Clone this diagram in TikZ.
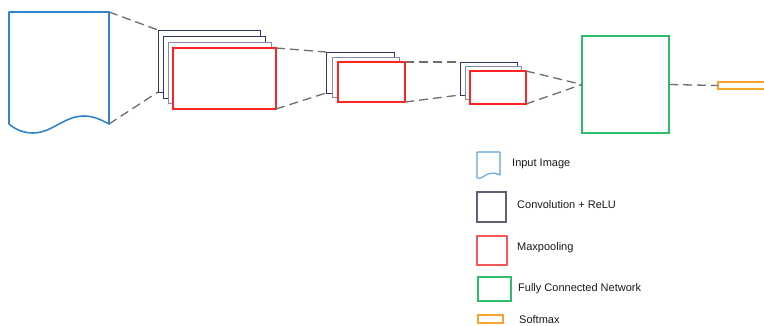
\documentclass[tikz,border=0pt]{standalone}
\usepackage{fontspec}
\setmainfont{Liberation Sans}
\definecolor{inblue}{HTML}{2F86D0}
\definecolor{inbluel}{HTML}{5AA2DC}
\definecolor{convnavy}{HTML}{2E3766}
\definecolor{convgray}{HTML}{858BA6}
\definecolor{poolred}{HTML}{FF2424}
\definecolor{poolredl}{HTML}{F05A5A}
\definecolor{fcgreen}{HTML}{2DBE6C}
\definecolor{smorange}{HTML}{F7A42C}
\definecolor{linkgray}{HTML}{6E6E6E}
\begin{document}
\begin{tikzpicture}[x=1pt,y=-1pt,
  box/.style={draw,fill=white,inner sep=0pt,outer sep=0pt,anchor=north west},
  convbox/.style={box,draw=convnavy,line width=0.9pt},
  convboxl/.style={box,draw=convgray,line width=0.9pt},
  poolbox/.style={box,draw=poolred,line width=1.6pt},
  fcbox/.style={box,draw=fcgreen,line width=1.6pt},
  smbox/.style={box,draw=smorange,line width=1.6pt},
  link/.style={draw=linkgray,line width=1.3pt,dash pattern=on 9pt off 5pt},
  legtext/.style={anchor=west,font=\fontsize{11}{13}\selectfont,text=black!90,inner sep=0pt}]
\useasboundingbox (0,0) rectangle (764,326);

% input image (document shape)
\coordinate (inTR) at (109,12);
\coordinate (inBR) at (109,124);
\draw[inblue,line width=1.6pt,line join=round]
  (9,124) -- (9,12) -- (inTR) -- (inBR)
  .. controls (103,121) and (95,116) .. (84,116)
  .. controls (64,116) and (52,133) .. (33,133)
  .. controls (24,133) and (16,130) .. (9,124) -- cycle;

% first convolution stack + pooling
\node[convbox,minimum width=102,minimum height=62] (c1a) at (158,30) {};
\node[convbox,minimum width=102,minimum height=62] (c1b) at (163,36) {};
\node[convboxl,minimum width=103,minimum height=61] (c1c) at (168,42) {};
\node[poolbox,minimum width=103,minimum height=61] (p1) at (173,48) {};

% second convolution stack + pooling
\node[convbox,minimum width=68,minimum height=41] (c2a) at (326,52) {};
\node[convboxl,minimum width=67,minimum height=40] (c2b) at (332,57) {};
\node[poolbox,minimum width=67,minimum height=40] (p2) at (338,62) {};

% third convolution stack + pooling
\node[convbox,minimum width=57,minimum height=33] (c3a) at (460,62) {};
\node[convboxl,minimum width=56,minimum height=33] (c3b) at (465,66) {};
\node[poolbox,minimum width=56,minimum height=33] (p3) at (470,71) {};

% fully connected network and softmax
\node[fcbox,minimum width=87,minimum height=97] (fc) at (582,36) {};
\node[smbox,minimum width=60,minimum height=7] (sm) at (718,82) {};

% connectors between stages
\draw[link] (inTR) -- (c1a.north west);
\draw[link] (inBR) -- (c1a.south west);
\draw[link] (p1.north east) -- (c2a.north west);
\draw[link] (p1.south east) -- (c2a.south west);
\draw[link] (p2.north east) -- (c3a.north west);
\draw[link] (p2.south east) -- (c3a.south west);
\draw[link] (p3.north east) -- (fc.west);
\draw[link] (p3.south east) -- (fc.west);
\draw[link] (fc.east) -- (sm.west);

% legend
\draw[inbluel,line width=1.1pt,line join=round]
  (477,178) -- (477,152) -- (500,152) -- (500,175)
  .. controls (495,172) and (490,173) .. (486,175)
  .. controls (483,177) and (480,179) .. (477,178);
\node[legtext] (lin) at (512,164) {Input Image};
\node[box,draw=convgray!70!black,line width=1.1pt,minimum width=29,minimum height=30] (lconv) at (477,192) {};
\node[legtext] (lconvt) at (517,205) {Convolution + ReLU};
\node[box,draw=poolredl,line width=1.1pt,minimum width=30,minimum height=29] (lpool) at (477,236) {};
\node[legtext] (lpoolt) at (517,248) {Maxpooling};
\node[box,draw=fcgreen,line width=1.6pt,minimum width=33,minimum height=24] (lfc) at (478,277) {};
\node[legtext] (lfct) at (518,289) {Fully Connected Network};
\node[box,draw=smorange,line width=1.4pt,minimum width=25,minimum height=8] (lsm) at (478,315) {};
\node[legtext] (lsmt) at (519,320) {Softmax};
\end{tikzpicture}
\end{document}
